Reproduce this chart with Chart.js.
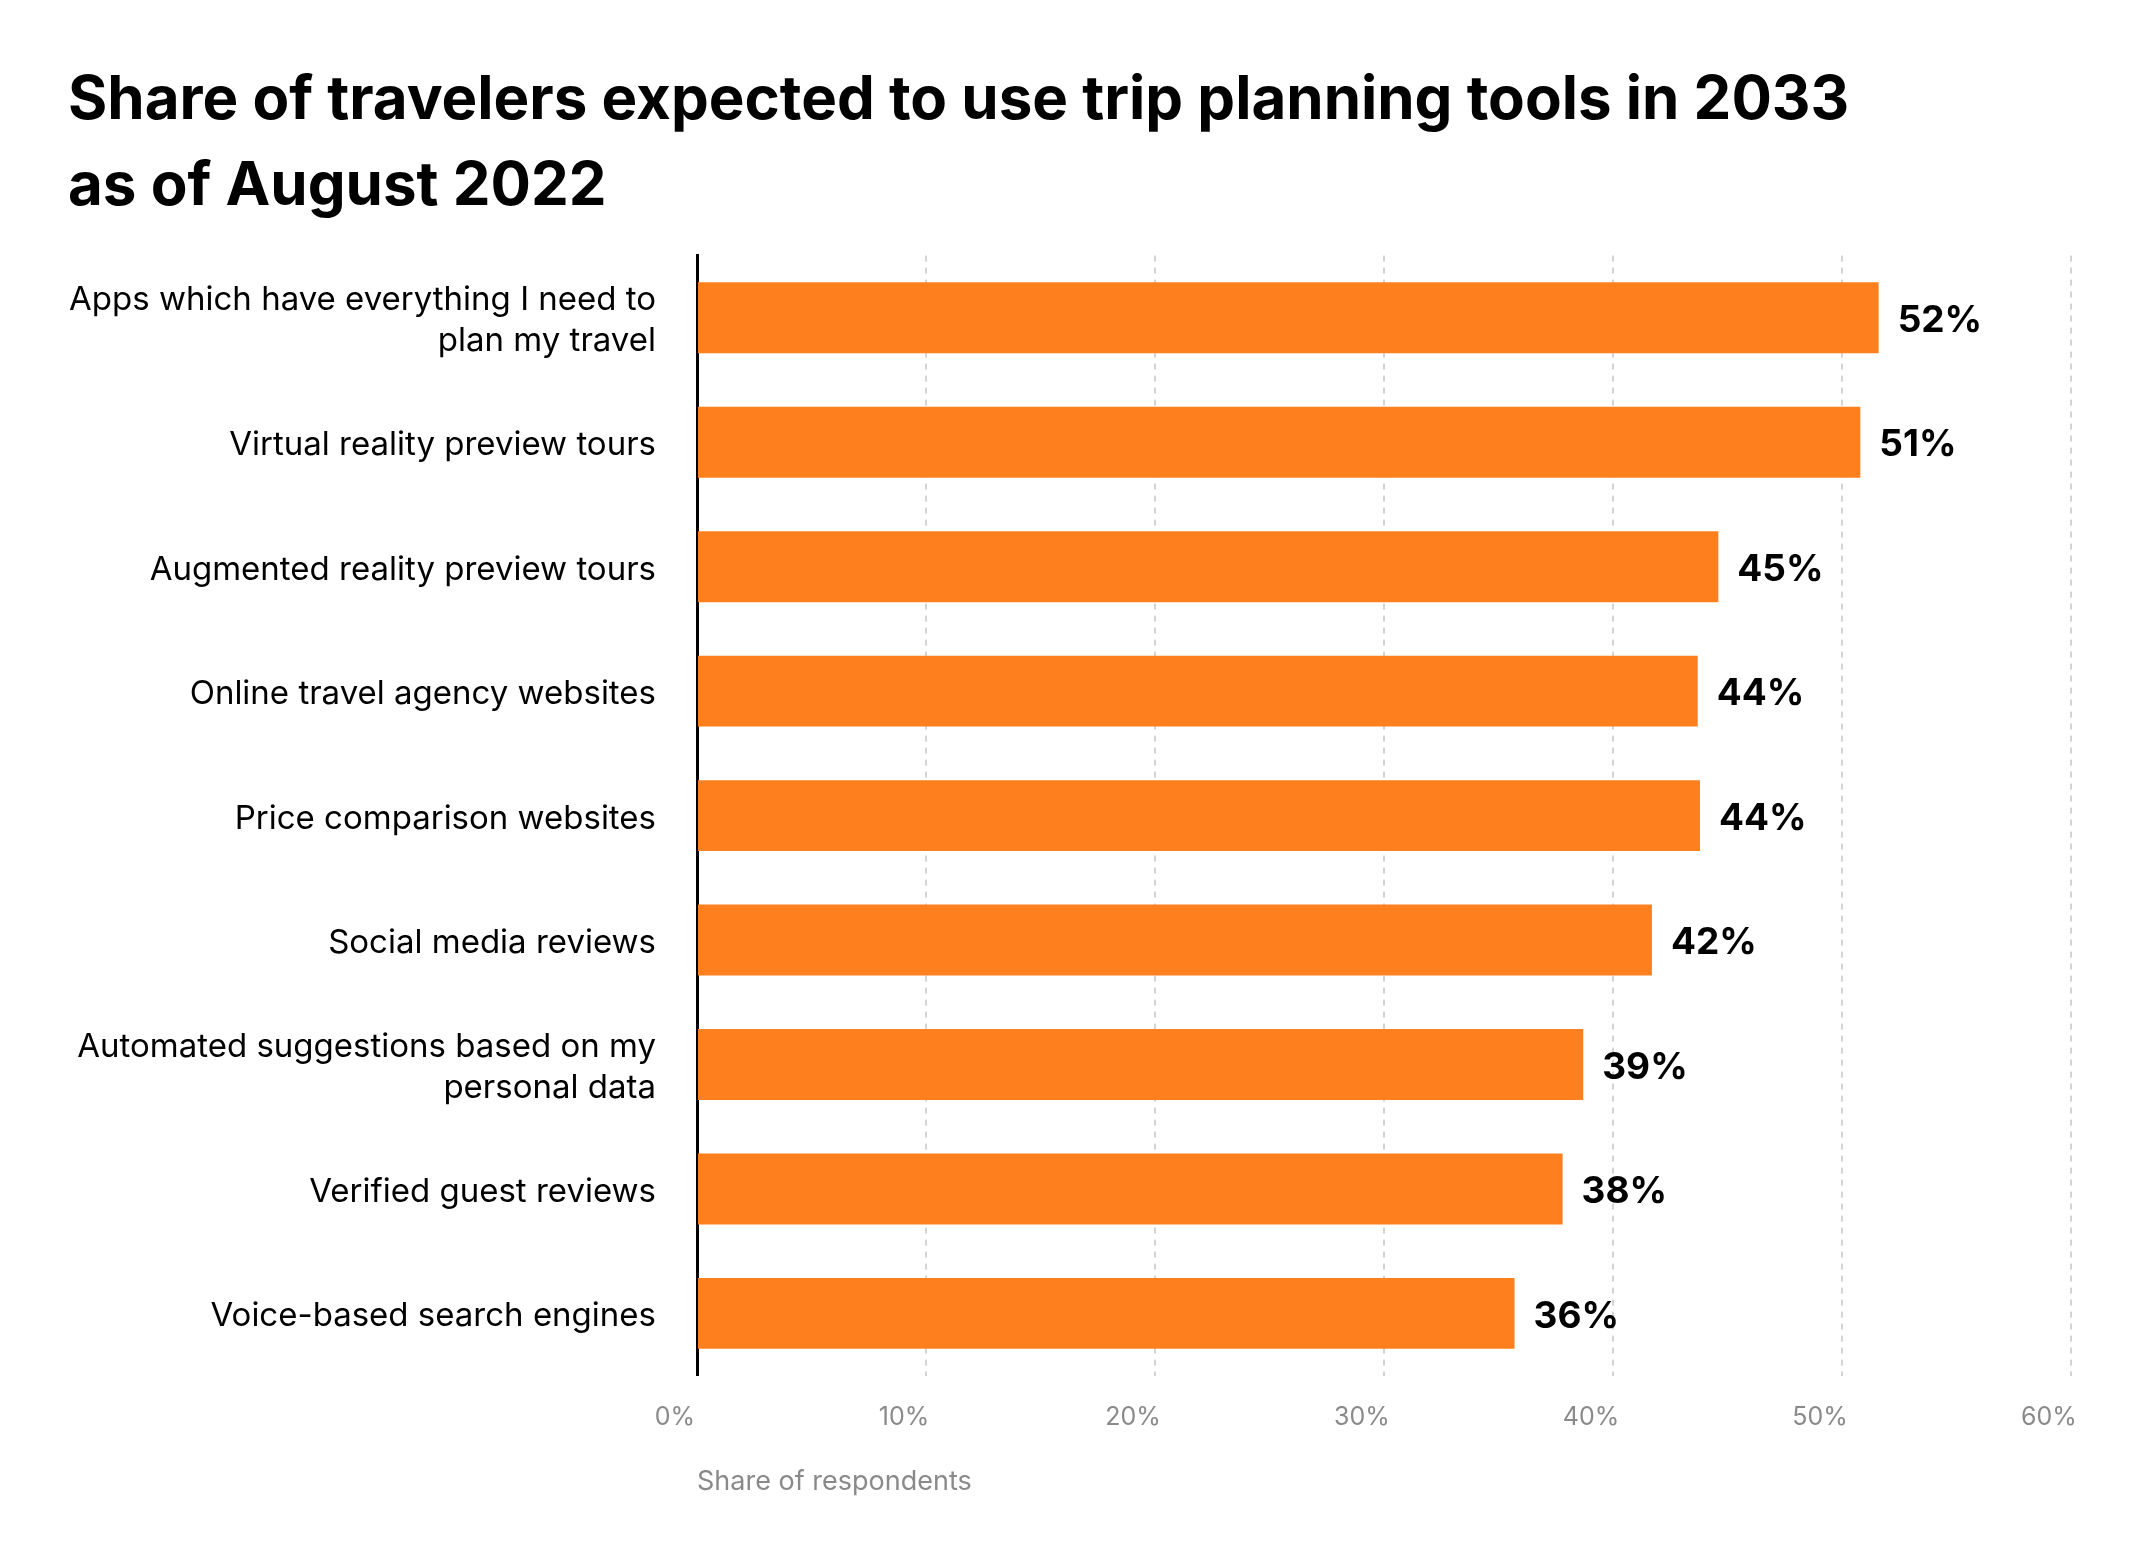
<!DOCTYPE html>
<html>
<head>
<meta charset="utf-8">
<script src="https://cdn.jsdelivr.net/npm/chart.js@4/dist/chart.umd.min.js"></script>
<style>
  html, body { margin: 0; padding: 0; background: #fff; }
  #wrap { width: 2144px; height: 1554px; position: relative; }
</style>
</head>
<body>
<div id="wrap"><canvas id="chart"></canvas></div>
<script>
// ---------------- data ----------------
const categories = [
    ['Apps which have everything I need to', 'plan my travel'],
    'Virtual reality preview tours',
    'Augmented reality preview tours',
    'Online travel agency websites',
    'Price comparison websites',
    'Social media reviews',
    ['Automated suggestions based on my', 'personal data'],
    'Verified guest reviews',
    'Voice-based search engines'
];
const shares = [51.6, 50.8, 44.6, 43.7, 43.8, 41.7, 38.7, 37.8, 35.7];
const xTicks = [0, 10, 20, 30, 40, 50, 60];

const titleLines = [
    'Share of travelers expected to use trip planning tools in 2033',
    'as of August 2022'
];

// ---------------- value labels at bar ends ----------------
const barValues = {
    id: 'barValues',
    afterDatasetsDraw(chart) {
        const ctx = chart.ctx;
        const meta = chart.getDatasetMeta(0);
        ctx.save();
        ctx.font = 'bold 37px Inter';
        ctx.fillStyle = '#000';
        ctx.textAlign = 'left';
        ctx.textBaseline = 'middle';
        meta.data.forEach((bar, i) => {
            ctx.fillText(Math.round(shares[i]) + '%', bar.x + 19, bar.y + 3);
        });
        ctx.restore();
    }
};

const ctx = document.getElementById('chart');

new Chart(ctx, {
    type: 'bar',
    data: {
        labels: categories,
        datasets: [{
            data: shares,
            backgroundColor: '#fe7f1e',
            borderWidth: 0,
            barPercentage: 0.57,
            categoryPercentage: 1
        }]
    },
    options: {
        indexAxis: 'y',
        responsive: true,
        maintainAspectRatio: false,
        animation: false,
        layout: {
            padding: { left: 68, right: 73, top: 0, bottom: 56 }
        },
        plugins: {
            legend: { display: false },
            tooltip: { enabled: false },
            title: {
                display: true,
                text: titleLines,
                align: 'start',
                color: '#000',
                font: { family: 'Inter', size: 60, weight: 'bold', lineHeight: 1.43 },
                padding: { top: 58, bottom: 26 }
            }
        },
        scales: {
            x: {
                min: 0,
                max: 60,
                afterBuildTicks: axis => {
                    axis.ticks = xTicks.map(v => ({ value: v }));
                },
                grid: {
                    color: ctx => ctx.tick && ctx.tick.value === 0 ? 'rgba(0,0,0,0)' : '#d4d4d4',
                    lineWidth: 2,
                    drawTicks: false
                },
                border: { display: false, dash: [6, 6] },
                ticks: {
                    color: '#8a8a8a',
                    font: { family: 'Inter', size: 25 },
                    padding: 27,
                    labelOffset: -22,
                    callback: v => v + '%'
                },
                title: {
                    display: true,
                    text: 'Share of respondents',
                    align: 'start',
                    color: '#8a8a8a',
                    font: { family: 'Inter', size: 27 },
                    padding: { top: 6, bottom: 0 }
                }
            },
            y: {
                afterFit: axis => { axis.width = 629; },
                grid: { display: false, drawTicks: false },
                border: { display: true, color: '#000', width: 3 },
                ticks: {
                    color: '#000',
                    font: { family: 'Inter', size: 33, lineHeight: 1.25 },
                    padding: 41,
                    labelOffset: 3,
                    autoSkip: false
                }
            }
        }
    },
    plugins: [barValues]
});
</script>
</body>
</html>
